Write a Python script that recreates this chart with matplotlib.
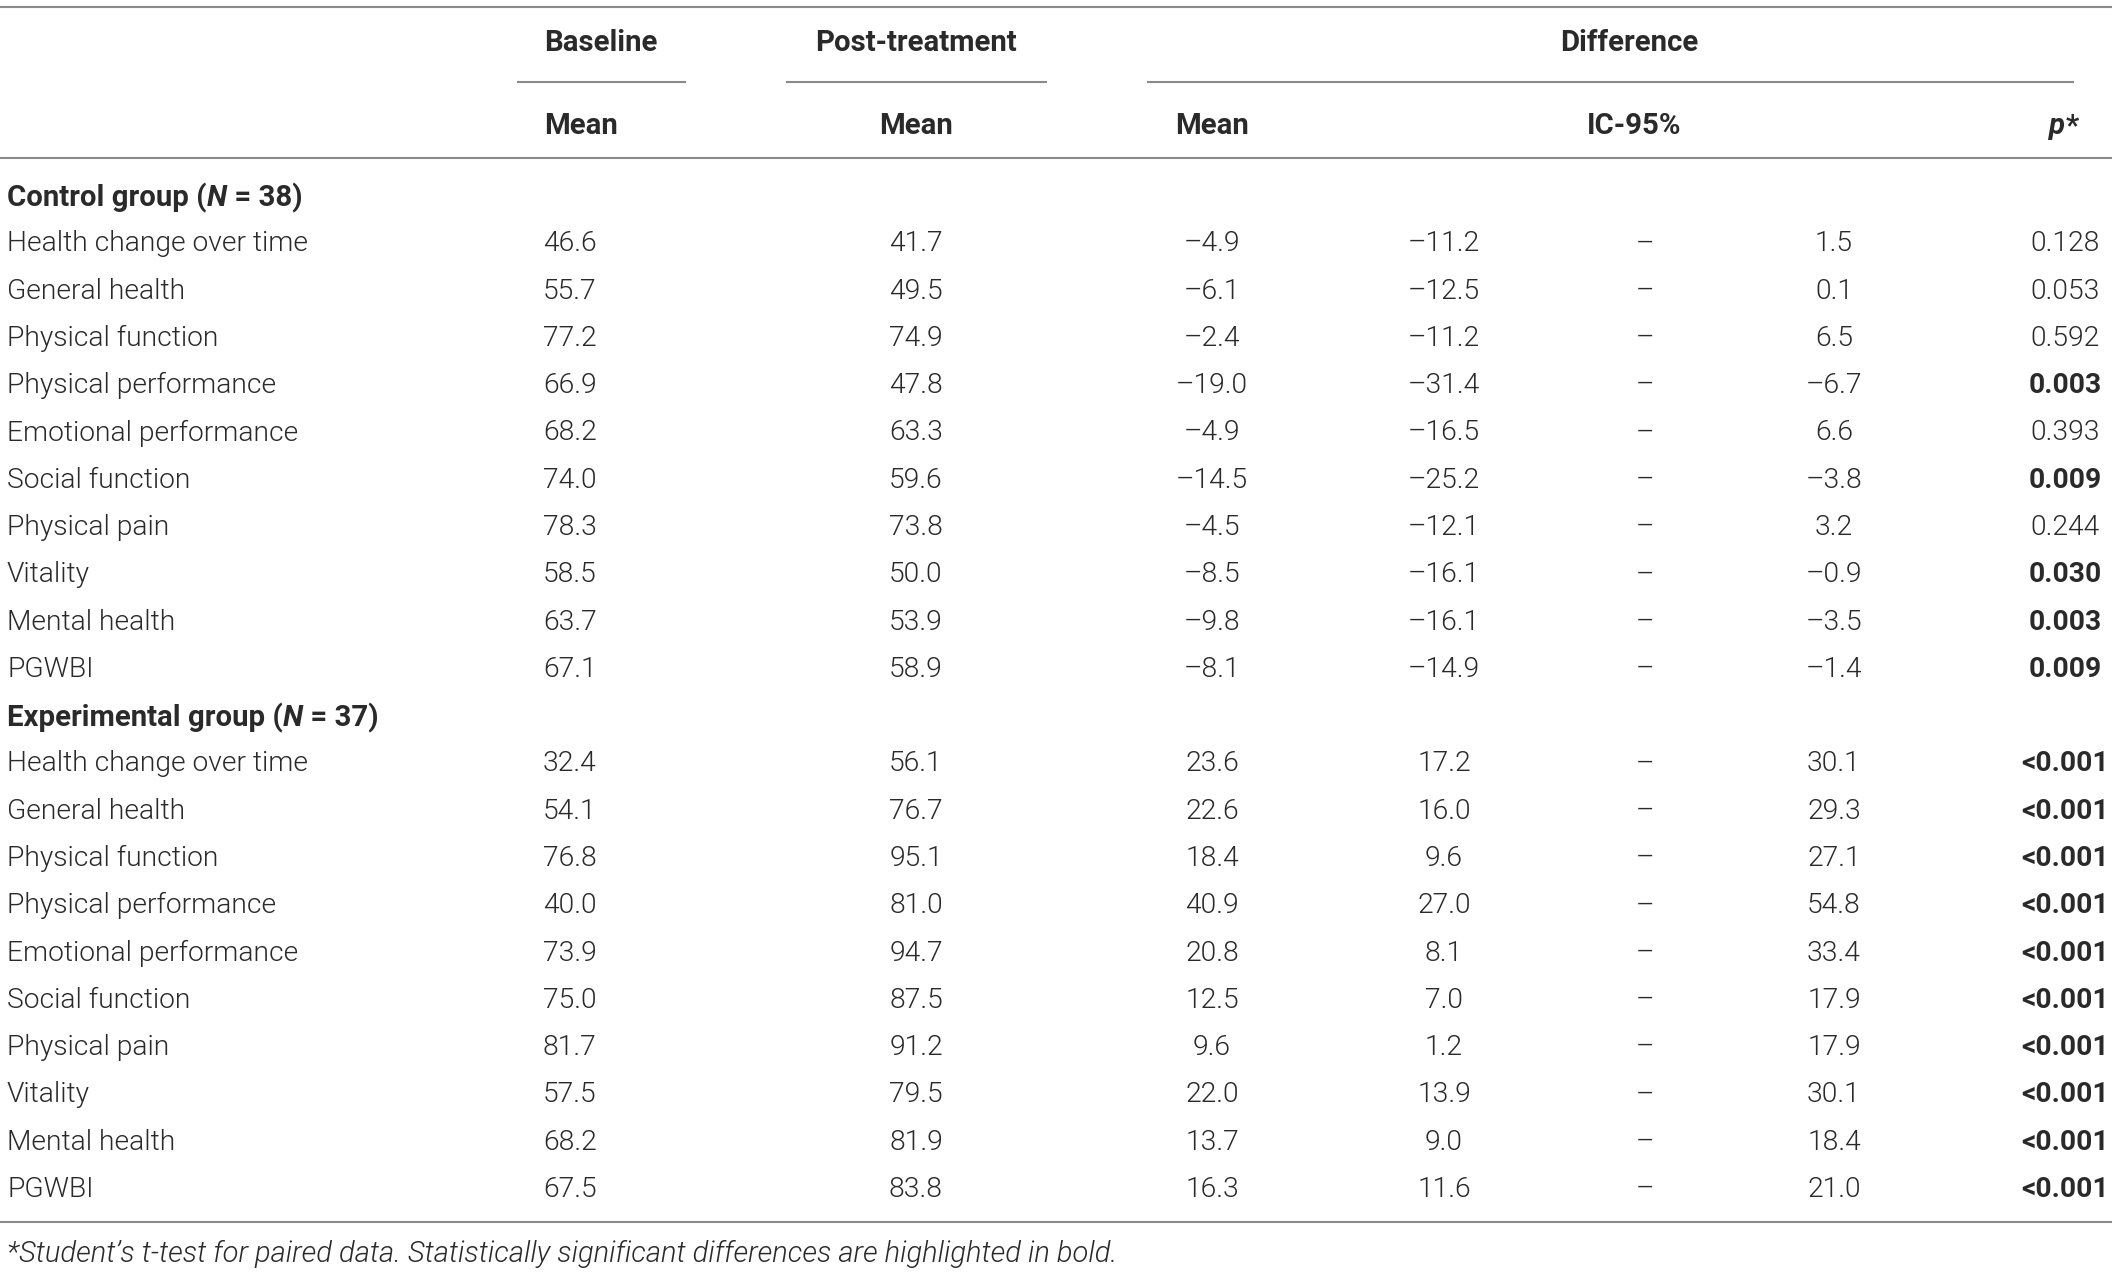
import matplotlib
matplotlib.use("Agg")
import matplotlib.pyplot as plt

# ---------------- data ----------------
row_labels = ["Health change over time", "General health", "Physical function",
              "Physical performance", "Emotional performance", "Social function",
              "Physical pain", "Vitality", "Mental health", "PGWBI"]

control_baseline = [46.6, 55.7, 77.2, 66.9, 68.2, 74.0, 78.3, 58.5, 63.7, 67.1]
control_post = [41.7, 49.5, 74.9, 47.8, 63.3, 59.6, 73.8, 50.0, 53.9, 58.9]
control_diff = [-4.9, -6.1, -2.4, -19.0, -4.9, -14.5, -4.5, -8.5, -9.8, -8.1]
control_lo = [-11.2, -12.5, -11.2, -31.4, -16.5, -25.2, -12.1, -16.1, -16.1, -14.9]
control_hi = [1.5, 0.1, 6.5, -6.7, 6.6, -3.8, 3.2, -0.9, -3.5, -1.4]
control_p = ["0.128", "0.053", "0.592", "0.003", "0.393", "0.009", "0.244", "0.030", "0.003", "0.009"]

exp_baseline = [32.4, 54.1, 76.8, 40.0, 73.9, 75.0, 81.7, 57.5, 68.2, 67.5]
exp_post = [56.1, 76.7, 95.1, 81.0, 94.7, 87.5, 91.2, 79.5, 81.9, 83.8]
exp_diff = [23.6, 22.6, 18.4, 40.9, 20.8, 12.5, 9.6, 22.0, 13.7, 16.3]
exp_lo = [17.2, 16.0, 9.6, 27.0, 8.1, 7.0, 1.2, 13.9, 9.0, 11.6]
exp_hi = [30.1, 29.3, 27.1, 54.8, 33.4, 17.9, 17.9, 30.1, 18.4, 21.0]
exp_p = ["<0.001"] * 10

groups = [("Control group (", "38", control_baseline, control_post, control_diff,
           control_lo, control_hi, control_p),
          ("Experimental group (", "37", exp_baseline, exp_post, exp_diff,
           exp_lo, exp_hi, exp_p)]

footnote = ("*Student\u2019s t-test for paired data. Statistically significant "
            "differences are highlighted in bold.")

# ---------------- style ----------------
W, H = 2118, 1272
FONT = ["Roboto", "Liberation Sans", "DejaVu Sans"]
FS = 20.3
FSB = 21.2
TXT = "#2a2a2a"
LINE = "#8a8a8a"
LW = 1.5
DY = 3  # vertical text nudge

fig = plt.figure(figsize=(W / 100, H / 100), dpi=100)
ax = fig.add_axes([0, 0, 1, 1])
ax.set_xlim(0, W)
ax.set_ylim(H, 0)
ax.axis("off")


def fmt(v):
    s = f"{abs(v):.1f}"
    return ("\u2013" + s) if v < 0 else s


def t(x, y, s, ha="center", weight=300, style="normal", size=None):
    if size is None:
        size = FSB if weight == "bold" else FS
    return ax.text(x, y + DY, s, ha=ha, va="center", fontsize=size, color=TXT,
                   family=FONT, fontweight=weight, fontstyle=style)


renderer = fig.canvas.get_renderer()


def segments(x, y, parts, ha="left"):
    arts = []
    widths = []
    for s, w, st in parts:
        a = t(0, y, s, ha="left", weight=w, style=st)
        bb = a.get_window_extent(renderer=renderer)
        arts.append(a)
        widths.append(bb.width)
    total = sum(widths)
    start = x if ha == "left" else (x - total / 2 if ha == "center" else x - total)
    cur = start
    for a, wdt in zip(arts, widths):
        a.set_x(cur)
        cur += wdt


def hline(y, x0, x1):
    ax.plot([x0, x1], [y, y], color=LINE, lw=LW, solid_capstyle="butt")


# column positions
X_LABEL = 7
X_BASE = 543
X_POST = 916
X_DIFF = 1212
X_LO = 1444
X_DASH = 1645
X_HI = 1834
X_P = 2065

# rules
hline(7, 0, 2112)
hline(82, 517, 686)
hline(82, 786, 1047)
hline(82, 1147, 2074)
hline(158, 0, 2112)
hline(1222, 0, 2112)

# headers
t(X_BASE + 1, 40, "Baseline", ha="left", weight="bold")
t(X_POST, 40, "Post-treatment", weight="bold")
t(1629, 40, "Difference", weight="bold")
t(X_BASE + 1, 123, "Mean", ha="left", weight="bold")
t(X_POST, 123, "Mean", weight="bold")
t(X_DIFF, 123, "Mean", weight="bold")
t(1634, 123, "IC-95%", weight="bold")
segments(2064, 123, [("p", "bold", "italic"), ("*", "bold", "normal")], ha="center")

# body
group_y = [194.5, 714.6]
row_step = 47.3
for gi, (gname, n, base, post, diff, lo, hi, pv) in enumerate(groups):
    gy = group_y[gi]
    segments(X_LABEL, gy, [(gname, "bold", "normal"), ("N", "bold", "italic"),
                           (" = " + n + ")", "bold", "normal")])
    for i, lab in enumerate(row_labels):
        y = gy + row_step * (i + 1) - 1
        t(X_LABEL, y, lab, ha="left")
        t(X_BASE, y, fmt(base[i]), ha="left")
        t(X_POST, y, fmt(post[i]))
        t(X_DIFF, y, fmt(diff[i]))
        t(X_LO, y, fmt(lo[i]))
        t(X_DASH, y, "\u2013")
        t(X_HI, y, fmt(hi[i]))
        p = pv[i]
        sig = p.startswith("<") or float(p) < 0.05
        t(X_P, y, p, weight="bold" if sig else 300, size=FS)

t(X_LABEL, 1251, footnote, ha="left", style="italic", size=21.0)

fig.savefig("out.png", dpi=100)
